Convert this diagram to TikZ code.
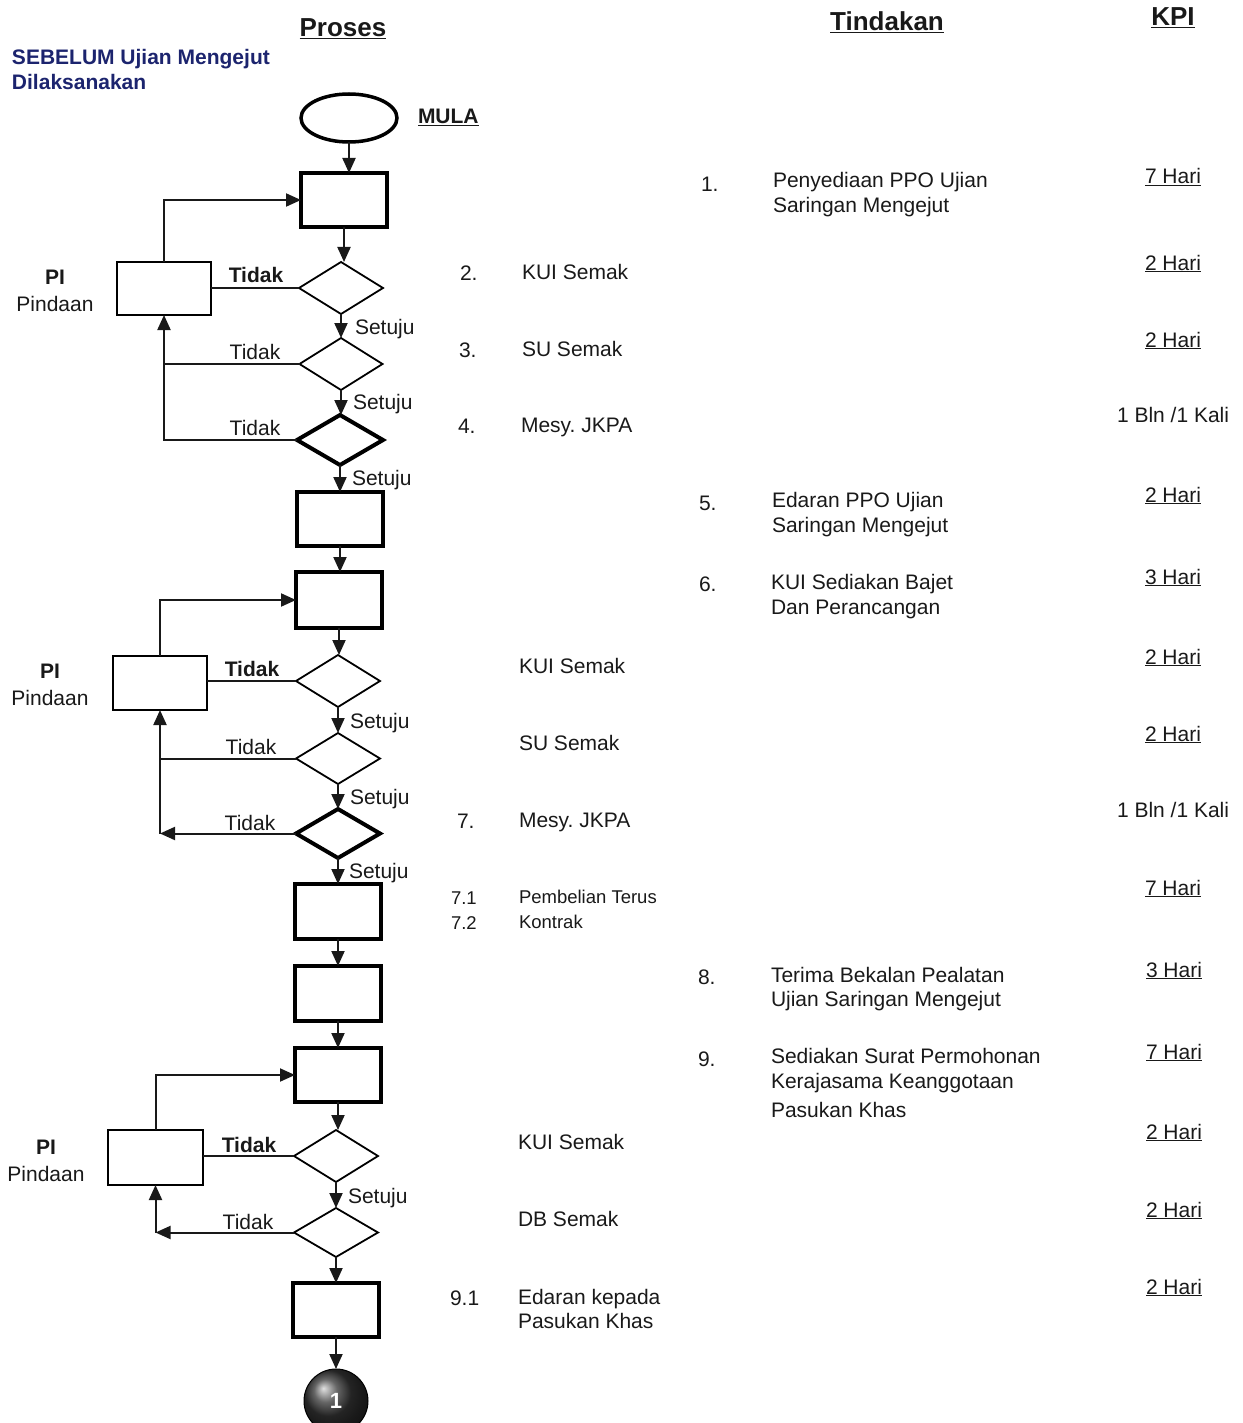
\documentclass[tikz,border=0pt]{standalone}
\usepackage{fontspec}
\setmainfont{Liberation Sans}
\usetikzlibrary{shapes.geometric,arrows.meta,calc}
\definecolor{navy}{RGB}{28,36,110}
\definecolor{ink}{RGB}{25,25,25}
\frenchspacing
\begin{document}
\begin{tikzpicture}[x=1pt,y=-1pt,
  txt/.style={font=\fontsize{21}{25}\selectfont, text=ink, inner sep=0pt, outer sep=0pt, anchor=base west},
  txtb/.style={txt, font=\fontsize{21}{25}\selectfont\bfseries},
  smalltxt/.style={txt, font=\fontsize{18.5}{22}\selectfont},
  hdr/.style={font=\fontsize{26}{30}\selectfont\bfseries, text=ink, inner sep=0pt, anchor=base},
  kpi/.style={txt, anchor=base east},
  procbox/.style={draw, rectangle, line width=3.8pt, inner sep=0pt, outer sep=0pt, minimum width=86pt, minimum height=54pt},
  pibox/.style={draw, rectangle, line width=2pt, inner sep=0pt, outer sep=0pt, minimum width=94pt, minimum height=53pt},
  dec/.style={draw, diamond, line width=1.8pt, inner sep=0pt, outer sep=0pt, minimum width=84pt, minimum height=52pt},
  decb/.style={dec, line width=4pt, minimum height=50pt},
  ln/.style={line width=2pt, draw=ink},
  arr/.style={ln, -{Triangle[length=15pt,width=13pt]}},
]
\useasboundingbox (0,0) rectangle (1242,1423);

% ---------- headers ----------
\node[hdr] (hproses) at (343,37) {\underline{Proses}};
\node[hdr] (htind) at (887,31) {\underline{Tindakan}};
\node[hdr] (hkpi) at (1173,26) {\underline{KPI}};
\node[txtb, text=navy] (sb1) at (12,65) {SEBELUM Ujian Mengejut};
\node[txtb, text=navy] (sb2) at (12,90) {Dilaksanakan};

% ---------- start ----------
\node[draw, ellipse, line width=3.5pt, minimum width=96pt, minimum height=48pt, inner sep=0pt, outer sep=0pt] (mula) at (349,118) {};
\node[txtb] (mulat) at (418,124) {\underline{MULA}};

% ---------- section 1 ----------
\node[procbox] (b1) at (344,200) {};
\node[dec] (d1) at (341,288) {};
\node[pibox] (p1) at (164,288.5) {};
\node[dec, minimum width=83pt] (d2) at (341,364) {};
\node[decb, minimum width=86pt] (d3) at (340,440) {};
\node[procbox] (b2) at (340,519) {};

\draw[arr] (mula.south) -- (mula.south |- b1.north);
\draw[arr] (b1.south) -- (b1.south |- d1.north);
\draw[arr] (d1.south) -- (d1.south |- d2.north);
\draw[arr] (d2.south) -- (d2.south |- d3.north);
\draw[arr] (d3.south) -- (d3.south |- b2.north);
\draw[ln] (d1.west) -- (d1.west -| p1.east);
\draw[arr] (p1.north) |- (b1.west);
\draw[ln] (d2.west) -- (d2.west -| p1.south);
\draw[arr] (d3.west) -| (p1.south);

\node[txtb, anchor=base] (pi1) at (55,284) {PI};
\node[txt, anchor=base] (pd1) at (55,311) {Pindaan};
\node[txtb, anchor=base] (td1) at (256,282) {Tidak};
\node[txt, anchor=base] (td2) at (255,359) {Tidak};
\node[txt, anchor=base] (td3) at (255,435) {Tidak};
\node[txt] (st1) at (355,334) {Setuju};
\node[txt] (st2) at (353,409) {Setuju};
\node[txt] (st3) at (352,485) {Setuju};

% ---------- section 2 ----------
\node[procbox, minimum height=56pt] (b3) at (339,600) {};
\node[dec] (d4) at (338,681) {};
\node[pibox, minimum height=54pt] (p2) at (160,683) {};
\node[dec, minimum height=51pt] (d5) at (338,758.5) {};
\node[decb, minimum width=84pt, minimum height=49pt] (d6) at (338,833.5) {};
\node[procbox, minimum height=55pt] (b4) at (338,911.5) {};
\node[procbox, minimum height=55pt] (b5) at (338,993.5) {};
\coordinate (k2) at (d6.west -| p2.south);

\draw[arr] (b2.south) -- (b2.south |- b3.north);
\draw[arr] (b3.south) -- (b3.south |- d4.north);
\draw[arr] (d4.south) -- (d4.south |- d5.north);
\draw[arr] (d5.south) -- (d5.south |- d6.north);
\draw[arr] (d6.south) -- (d6.south |- b4.north);
\draw[arr] (b4.south) -- (b4.south |- b5.north);
\draw[ln] (d4.west) -- (d4.west -| p2.east);
\draw[arr] (p2.north) |- (b3.west);
\draw[ln] (d5.west) -- (d5.west -| p2.south);
\draw[arr] (d6.west) -- (k2);
\draw[arr] (k2) -- (p2.south);

\node[txtb, anchor=base] (pi2) at (50,678) {PI};
\node[txt, anchor=base] (pd2) at (50,705) {Pindaan};
\node[txtb, anchor=base] (td4) at (252,676) {Tidak};
\node[txt, anchor=base] (td5) at (251,754) {Tidak};
\node[txt, anchor=base] (td6) at (250,830) {Tidak};
\node[txt] (st4) at (350,728) {Setuju};
\node[txt] (st5) at (350,804) {Setuju};
\node[txt] (st6) at (349,878) {Setuju};

% ---------- section 3 ----------
\node[procbox] (b6) at (338,1075) {};
\node[dec] (d7) at (336,1156) {};
\node[pibox, minimum width=95pt, minimum height=55pt] (p3) at (155.5,1157.5) {};
\node[dec, minimum height=49pt] (d8) at (336,1232.5) {};
\node[procbox] (b7) at (336,1310) {};
\node[circle, minimum size=64pt, inner sep=0pt, outer sep=0pt, draw=black, line width=1pt, ball color=black!80, text=white, font=\fontsize{22}{26}\selectfont\bfseries] (end1) at (336,1401) {1};
\coordinate (k3) at (d8.west -| p3.south);

\draw[arr] (b5.south) -- (b5.south |- b6.north);
\draw[arr] (b6.south) -- (b6.south |- d7.north);
\draw[arr] (d7.south) -- (d7.south |- d8.north);
\draw[arr] (d8.south) -- (d8.south |- b7.north);
\draw[arr] (b7.south) -- (b7.south |- end1.north);
\draw[ln] (d7.west) -- (d7.west -| p3.east);
\draw[arr] (p3.north) |- (b6.west);
\draw[arr] (d8.west) -- (k3);
\draw[arr] (k3) -- (p3.south);

\node[txtb, anchor=base] (pi3) at (46,1154) {PI};
\node[txt, anchor=base] (pd3) at (46,1181) {Pindaan};
\node[txtb, anchor=base] (td7) at (249,1152) {Tidak};
\node[txt, anchor=base] (td8) at (248,1229) {Tidak};
\node[txt] (st7) at (348,1203) {Setuju};

% ---------- middle column ----------
\node[txt] (m2n) at (460,280) {2.};
\node[txt] (m2t) at (522,279) {KUI Semak};
\node[txt] (m3n) at (459,357) {3.};
\node[txt] (m3t) at (522,356) {SU Semak};
\node[txt] (m4n) at (458,433) {4.};
\node[txt] (m4t) at (521,432) {Mesy. JKPA};
\node[txt] (m5t) at (519,673) {KUI Semak};
\node[txt] (m6t) at (519,750) {SU Semak};
\node[txt] (m7n) at (457,828) {7.};
\node[txt] (m7t) at (519,827) {Mesy. JKPA};
\node[smalltxt] (m71n) at (451,904) {7.1};
\node[smalltxt] (m71t) at (519,903) {Pembelian Terus};
\node[smalltxt] (m72n) at (451,929) {7.2};
\node[smalltxt] (m72t) at (519,928) {Kontrak};
\node[txt] (m8t) at (518,1149) {KUI Semak};
\node[txt] (m9t) at (518,1226) {DB Semak};
\node[txt] (m91n) at (450,1305) {9.1};
\node[txt] (m91a) at (518,1304) {Edaran kepada};
\node[txt] (m91b) at (518,1328) {Pasukan Khas};

% ---------- Tindakan column ----------
\node[txt] (a1n) at (701,192) {1.};
\node[txt] (a1a) at (773,188) {Penyediaan PPO Ujian};
\node[txt] (a1b) at (773,213) {Saringan Mengejut};
\node[txt] (a5n) at (699,510) {5.};
\node[txt] (a5a) at (772,507) {Edaran PPO Ujian};
\node[txt] (a5b) at (772,532) {Saringan Mengejut};
\node[txt] (a6n) at (699,591) {6.};
\node[txt] (a6a) at (771,589) {KUI Sediakan Bajet};
\node[txt] (a6b) at (771,614) {Dan Perancangan};
\node[txt] (a8n) at (698,984) {8.};
\node[txt] (a8a) at (771,982) {Terima Bekalan Pealatan};
\node[txt] (a8b) at (771,1006) {Ujian Saringan Mengejut};
\node[txt] (a9n) at (698,1066) {9.};
\node[txt] (a9a) at (771,1063) {Sediakan Surat Permohonan};
\node[txt] (a9b) at (771,1088) {Kerajasama Keanggotaan};
\node[txt] (a9c) at (771,1117) {Pasukan Khas};

% ---------- KPI column ----------
\node[kpi] (k01) at (1201,184) {\underline{7 Hari}};
\node[kpi] (k02) at (1201,270) {\underline{2 Hari}};
\node[kpi] (k03) at (1201,347) {\underline{2 Hari}};
\node[txt] (k04) at (1117,422) {1 Bln /1 Kali};
\node[kpi] (k05) at (1201,502) {\underline{2 Hari}};
\node[kpi] (k06) at (1201,584) {\underline{3 Hari}};
\node[kpi] (k07) at (1201,664) {\underline{2 Hari}};
\node[kpi] (k08) at (1201,741) {\underline{2 Hari}};
\node[txt] (k09) at (1117,817) {1 Bln /1 Kali};
\node[kpi] (k10) at (1201,895) {\underline{7 Hari}};
\node[kpi] (k11) at (1202,977) {\underline{3 Hari}};
\node[kpi] (k12) at (1202,1059) {\underline{7 Hari}};
\node[kpi] (k13) at (1202,1139) {\underline{2 Hari}};
\node[kpi] (k14) at (1202,1217) {\underline{2 Hari}};
\node[kpi] (k15) at (1202,1294) {\underline{2 Hari}};
\end{tikzpicture}
\end{document}
